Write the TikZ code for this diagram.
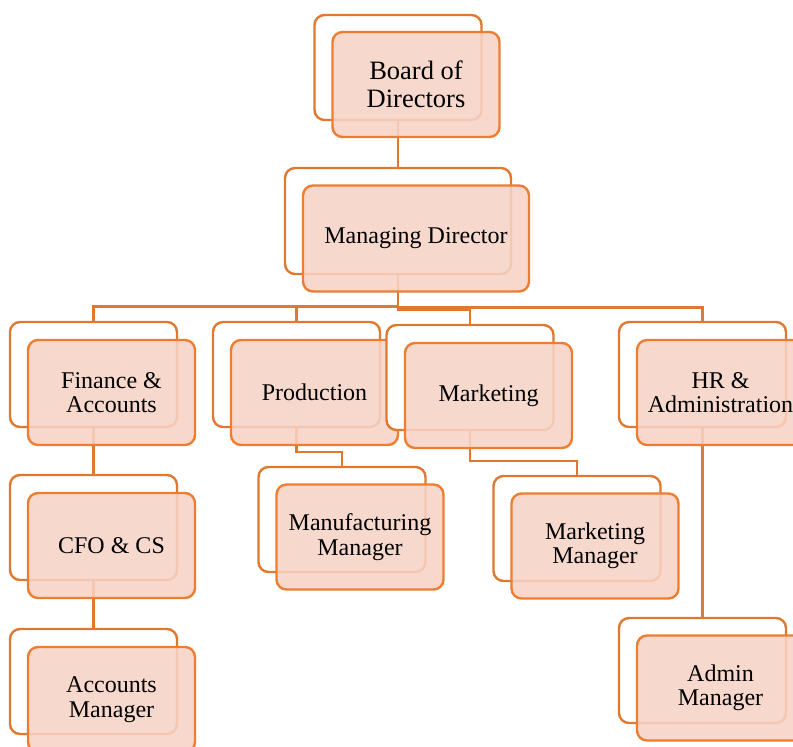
\documentclass[tikz,border=0pt]{standalone}
\usepackage{fontspec}
\setmainfont{Liberation Serif}
\usetikzlibrary{backgrounds}
\definecolor{orgA}{HTML}{ED7D31}
\definecolor{orgB}{HTML}{E0782F}
\definecolor{peach}{HTML}{F7D3C6}
\tikzset{
  boxbase/.style={line width=2.4pt, rounded corners=10pt,
    minimum width=167pt, minimum height=105pt, inner sep=0pt},
  backbox/.style={boxbase, draw=orgB, fill=white},
  frontbox/.style={boxbase, draw=orgA, fill=peach, fill opacity=0.88,
    draw opacity=1, text opacity=1, align=center, text=black,
    font=\fontsize{24}{24.5}\selectfont},
  link/.style={draw=orgB, line width=2.4pt}
}
\begin{document}
\begin{tikzpicture}[x=1pt,y=-1pt]
\useasboundingbox (0,0) rectangle (793,747);
\clip (0,0) rectangle (793,747);
% units: back box then front box
\node[backbox] (board-b) at (398,67.5) {};
\node[frontbox, font=\fontsize{26.5}{28}\selectfont] (board) at (416,84.5) {Board of\\Directors};
\node[backbox, minimum width=226pt, minimum height=106pt] (md-b) at (398,221) {};
\node[frontbox, minimum width=226pt, minimum height=106pt] (md) at (416,238.5) {Managing Director};
\node[backbox] (fin-b) at (93.5,374.5) {};
\node[frontbox] (fin) at (111.5,392.5) {Finance \&\\Accounts};
\node[backbox] (prod-b) at (296.5,374.5) {};
\node[frontbox] (prod) at (314.5,392.5) {Production};
\node[backbox] (mkt-b) at (470,377.5) {};
\node[frontbox] (mkt) at (488.5,395.5) {Marketing};
\node[backbox] (hr-b) at (702.5,374.5) {};
\node[frontbox] (hr) at (720.5,392.5) {HR \&\\Administration};
\node[backbox] (cfo-b) at (93.5,527.5) {};
\node[frontbox] (cfo) at (111.5,545.5) {CFO \& CS};
\node[backbox] (acc-b) at (93.5,681.5) {};
\node[frontbox] (acc) at (111.5,699.5) {Accounts\\Manager};
\node[backbox] (mfg-b) at (342,519.5) {};
\node[frontbox] (mfg) at (360,537) {Manufacturing\\Manager};
\node[backbox] (mm-b) at (577,528.5) {};
\node[frontbox] (mm) at (595,546) {Marketing\\Manager};
\node[backbox] (adm-b) at (702.5,670.5) {};
\node[frontbox] (adm) at (720.5,688) {Admin\\Manager};
% connectors
\begin{pgfonlayer}{background}
\coordinate (busL) at (93.5,306.5);
\coordinate (busP) at (296.5,306.5);
\coordinate (busM) at (470,309.5);
\coordinate (busH) at (702.5,307.5);
\coordinate (pm) at (342,452);
\coordinate (mmj) at (577,461);
\draw[link] (board-b.south) -- (md-b.north);
\draw[link] (md-b.south) |- (busL) -- (fin-b.north);
\draw[link] (md-b.south) |- (busP) -- (prod-b.north);
\draw[link] (md-b.south) |- (busM) -- (mkt-b.north);
\draw[link] (md-b.south) |- (busH) -- (hr-b.north);
\draw[link] (fin-b.south) -- (cfo-b.north);
\draw[link] (cfo-b.south) -- (acc-b.north);
\draw[link] (prod-b.south) |- (pm) -- (mfg-b.north);
\draw[link] (mkt-b.south) |- (mmj) -- (mm-b.north);
\draw[link] (hr-b.south) -- (adm-b.north);
\end{pgfonlayer}
\end{tikzpicture}
\end{document}
